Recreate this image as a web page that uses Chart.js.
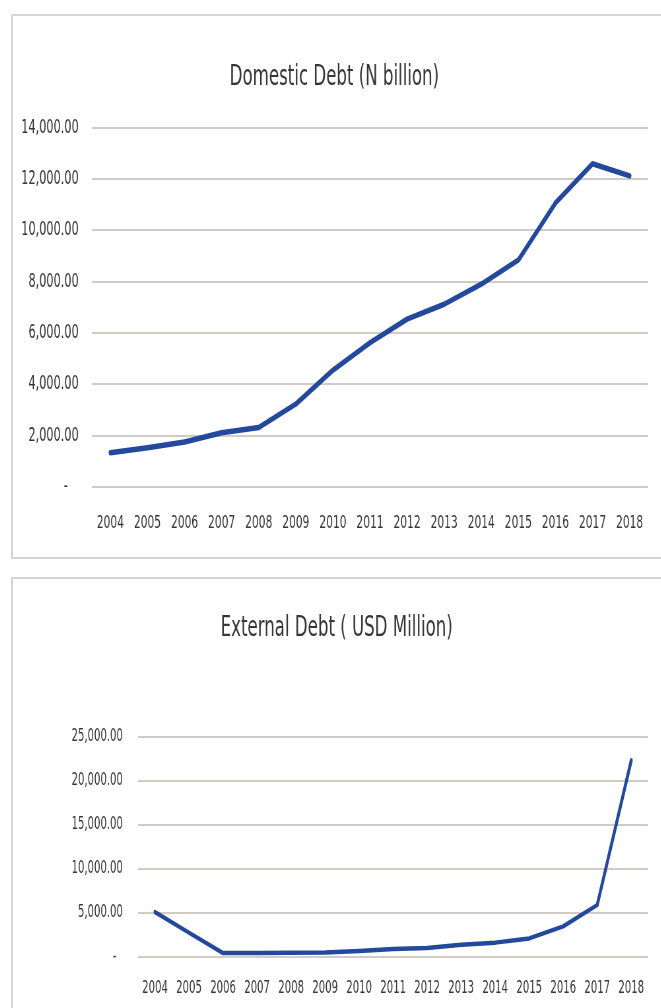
<!DOCTYPE html>
<html>
<head>
<meta charset="utf-8">
<script src="https://cdn.jsdelivr.net/npm/chart.js@4"></script>
<style>
  html, body { margin: 0; padding: 0; background: #fff; overflow: hidden; }
  body { width: 661px; height: 1008px; position: relative; }
  .box { position: absolute; left: 11px; width: 700px; border: 2px solid #d6d6d6; border-right: none; background: #fff; }
  #boxTop { top: 14px; height: 541px; }
  #boxBottom { top: 577px; height: 440px; }
  /* charts are laid out wider, then squeezed horizontally */
  .wrap { position: absolute; left: 10px; width: 986px; transform: scaleX(0.66); transform-origin: 0 0; }
  #wrapTop { top: 15px; height: 540px; }
  #wrapBottom { top: 579px; height: 429px; }
</style>
</head>
<body>
<div class="box" id="boxTop"></div>
<div class="box" id="boxBottom"></div>
<div class="wrap" id="wrapTop"><canvas id="chartTop"></canvas></div>
<div class="wrap" id="wrapBottom"><canvas id="chartBottom"></canvas></div>
<script>
// Годы и значения рядов
const years = ['2004', '2005', '2006', '2007', '2008', '2009', '2010', '2011', '2012', '2013', '2014', '2015', '2016', '2017', '2018'];
const domesticDebt = [1330, 1530, 1750, 2110, 2320, 3230, 4550, 5620, 6540, 7120, 7900, 8840, 11060, 12590, 12120];
const externalDebt = [5100, 2750, 450, 440, 490, 500, 690, 900, 1030, 1390, 1630, 2110, 3480, 5900, 22300];

const fontFamily = '"DejaVu Sans Condensed", "Liberation Sans Narrow", "Liberation Sans", sans-serif';
const textColor = '#363636';
const lineColor = '#23489c';
const gridColor = '#d2cac5';

// Формат подписей оси Y как в Excel (бухгалтерский)
function accounting(dashPad) {
  return function(value) {
    if (value === 0) return '-' + dashPad;
    return value.toLocaleString('en-US', { minimumFractionDigits: 2, maximumFractionDigits: 2 });
  };
}

function makeChart(canvasId, cfg) {
  const ctx = document.getElementById(canvasId).getContext('2d');
  return new Chart(ctx, {
    type: 'line',
    data: {
      labels: years,
      datasets: [{
        label: cfg.title,
        data: cfg.values,
        borderColor: lineColor,
        borderWidth: cfg.lineWidth,
        borderJoinStyle: 'round',
        borderCapStyle: 'round',
        pointRadius: 0,
        tension: 0,
        fill: false
      }]
    },
    options: {
      responsive: true,
      maintainAspectRatio: false,
      animation: false,
      layout: {
        padding: { left: cfg.padLeft, right: 19, top: 0, bottom: 0 }
      },
      plugins: {
        legend: { display: false },
        tooltip: { enabled: false },
        title: {
          display: true,
          text: cfg.title,
          color: textColor,
          font: { family: fontFamily, size: 28, weight: 'normal', lineHeight: 1.2 },
          padding: { top: cfg.titleTop, bottom: cfg.titleBottom }
        }
      },
      scales: {
        x: {
          offset: true,
          grid: { display: false, drawTicks: false },
          border: { display: false },
          ticks: {
            color: textColor,
            padding: cfg.xPad,
            maxRotation: 0,
            autoSkip: false,
            font: { family: fontFamily, size: cfg.xFont }
          },
          afterFit: function(scale) { scale.height = cfg.xHeight; }
        },
        y: {
          min: 0,
          max: cfg.max,
          grid: { color: gridColor, lineWidth: 2, drawTicks: false },
          border: { display: false },
          ticks: {
            stepSize: cfg.step,
            color: textColor,
            padding: cfg.yPad,
            font: { family: fontFamily, size: cfg.yFont },
            callback: accounting(cfg.dashPad)
          },
          afterFit: function(scale) { scale.width = cfg.yWidth; }
        }
      }
    }
  });
}

makeChart('chartTop', {
  title: 'Domestic Debt (N billion)',
  values: domesticDebt,
  max: 14000,
  step: 2000,
  lineWidth: 5.5,
  padLeft: 16,
  yWidth: 108,
  yPad: 20,
  yFont: 19,
  xFont: 18,
  xPad: 26,
  xHeight: 68,
  titleTop: 46,
  titleBottom: 33,
  dashPad: '   '
});

makeChart('chartBottom', {
  title: 'External Debt ( USD Million)',
  values: externalDebt,
  max: 25000,
  step: 5000,
  lineWidth: 4.5,
  padLeft: 23,
  yWidth: 171,
  yPad: 23,
  yFont: 17,
  xFont: 17,
  xPad: 21,
  xHeight: 51,
  titleTop: 33,
  titleBottom: 91,
  dashPad: '  '
});
</script>
</body>
</html>
